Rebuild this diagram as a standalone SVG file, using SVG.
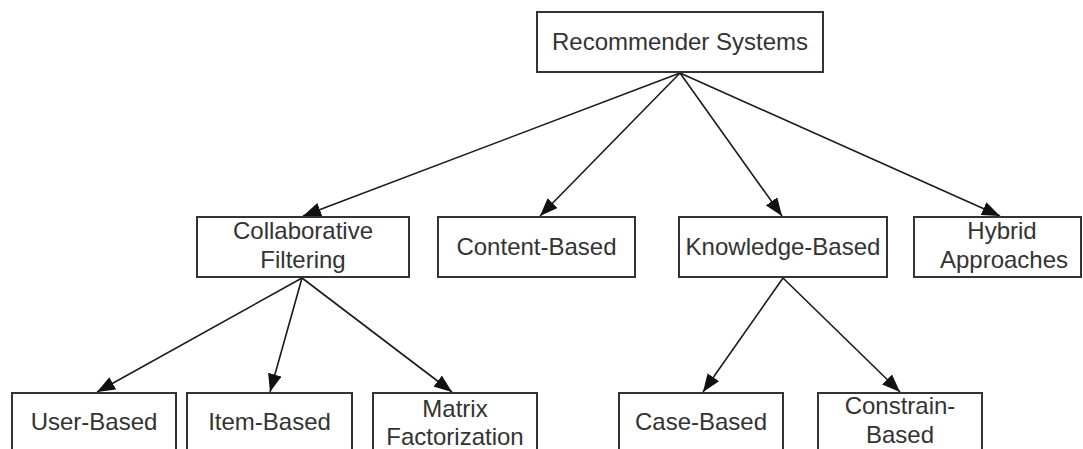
<svg xmlns="http://www.w3.org/2000/svg" width="1083" height="449" viewBox="0 0 1083 449">
  <style>
    .box { fill: #ffffff; stroke: #333333; stroke-width: 2; }
    .lbl { font-family: "Liberation Sans", Arial, sans-serif; font-size: 24px; fill: #333333; text-anchor: middle; }
    .edge { stroke: #1a1a1a; stroke-width: 1.6; fill: none; marker-end: url(#arrow); }
  </style>
  <defs>
    <marker id="arrow" markerUnits="userSpaceOnUse" markerWidth="20" markerHeight="14" refX="18" refY="7" orient="auto">
      <path d="M0,0 L18,7 L0,14 z" fill="#111111"/>
    </marker>
  </defs>
  <rect width="1083" height="449" fill="#ffffff"/>

  <g id="connectors">
    <line class="edge" x1="680" y1="73" x2="303" y2="216"/>
    <line class="edge" x1="680" y1="73" x2="540" y2="216"/>
    <line class="edge" x1="680" y1="73" x2="782" y2="216"/>
    <line class="edge" x1="680" y1="73" x2="1000" y2="216"/>
    <line class="edge" x1="302" y1="278" x2="97" y2="392"/>
    <line class="edge" x1="302" y1="278" x2="270" y2="392"/>
    <line class="edge" x1="302" y1="278" x2="452" y2="392"/>
    <line class="edge" x1="783" y1="278" x2="703" y2="392"/>
    <line class="edge" x1="783" y1="278" x2="900" y2="392"/>
  </g>

  <g id="root">
    <rect class="box" x="537" y="12" width="286" height="60"/>
    <text class="lbl" x="680" y="50">Recommender Systems</text>
  </g>
  <g id="collaborative">
    <rect class="box" x="197" y="217" width="212" height="60"/>
    <text class="lbl" x="303" y="239">Collaborative</text>
    <text class="lbl" x="303" y="268">Filtering</text>
  </g>
  <g id="content">
    <rect class="box" x="438" y="217" width="197" height="60"/>
    <text class="lbl" x="536.5" y="255">Content-Based</text>
  </g>
  <g id="knowledge">
    <rect class="box" x="679" y="217" width="208" height="60"/>
    <text class="lbl" x="783" y="255">Knowledge-Based</text>
  </g>
  <g id="hybrid">
    <rect class="box" x="914" y="217" width="167" height="60"/>
    <text class="lbl" x="1002" y="239">Hybrid</text>
    <text class="lbl" x="1004" y="268">Approaches</text>
  </g>
  <g id="user">
    <rect class="box" x="12" y="393" width="164" height="60"/>
    <text class="lbl" x="94" y="430">User-Based</text>
  </g>
  <g id="item">
    <rect class="box" x="187" y="393" width="165" height="60"/>
    <text class="lbl" x="269.5" y="430">Item-Based</text>
  </g>
  <g id="matrix">
    <rect class="box" x="373" y="393" width="164" height="60"/>
    <text class="lbl" x="455" y="417">Matrix</text>
    <text class="lbl" x="455" y="445">Factorization</text>
  </g>
  <g id="case">
    <rect class="box" x="619" y="393" width="164" height="60"/>
    <text class="lbl" x="701" y="430">Case-Based</text>
  </g>
  <g id="constrain">
    <rect class="box" x="818" y="393" width="164" height="60"/>
    <text class="lbl" x="900" y="414">Constrain-</text>
    <text class="lbl" x="900" y="443">Based</text>
  </g>
</svg>
